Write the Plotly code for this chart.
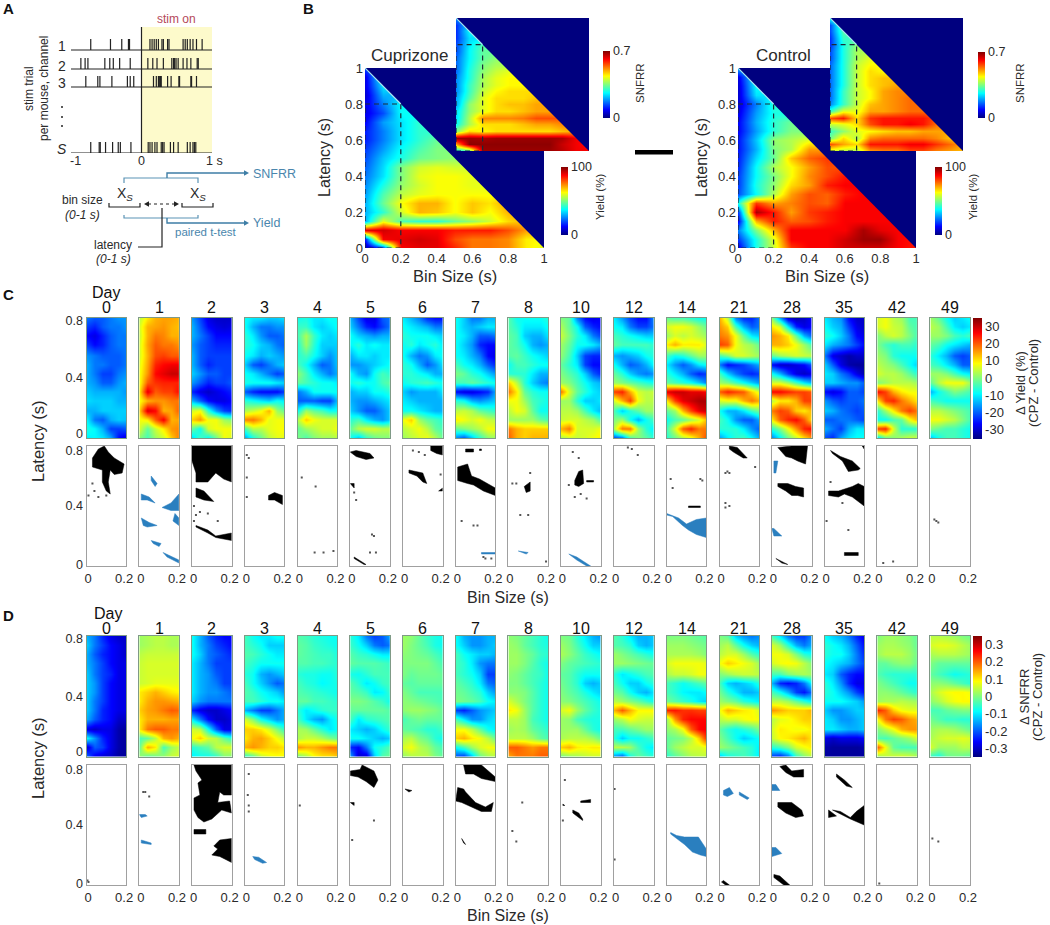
import plotly.graph_objects as go

W, H = 1050, 925
FONT = "Liberation Sans"
INK = "#2a2a2a"
BLUE_TXT = "#4a86ad"
JET = [[0, "#00007f"], [0.125, "#0000ff"], [0.375, "#00ffff"], [0.625, "#ffff00"], [0.875, "#ff0000"], [1, "#7f0000"]]

# ---------- panel A ----------
ROW_LABELS = ["1", "2", "3", "<i>S</i>"]
SPIKES_1 = [-0.72,-0.44,-0.28,-0.185,-0.17,0.12,0.15,0.18,0.21,0.24,0.29,0.31,0.37,0.39,0.59,0.62,0.65,0.69,0.73,0.78,0.86]
SPIKES_2 = [-0.86,-0.80,-0.76,-0.52,-0.45,-0.40,-0.31,-0.16,0.09,0.16,0.22,0.31,0.43,0.455,0.47,0.49,0.52,0.59,0.645,0.70,0.79,0.805]
SPIKES_3 = [-0.79,-0.62,-0.59,-0.42,-0.20,-0.16,-0.11,0.17,0.21,0.24,0.25,0.26,0.27,0.28,0.37,0.42,0.53,0.54,0.70,0.71,0.78]
SPIKES_S = [-0.72,-0.60,-0.585,-0.51,-0.41,-0.33,-0.30,-0.15,0.095,0.12,0.15,0.19,0.22,0.28,0.30,0.32,0.41,0.455,0.52,0.65,0.69,0.73,0.75,0.77]

# ---------- panel B: rows from latency 1.0 down to 0, each row runs from bin size 0 up to the diagonal ----------
B_BINS = [0, .1, .2, .3, .4, .5, .6, .7, .8, .9, 1.0]
B_LATENCY = [1, .95, .9, .85, .8, .75, .7, .65, .6, .55, .5, .45, .4, .35, .3, .25, .2, .15, .1, .05, 0]
CPZ_YIELD = [[20],[10,40],[10,35],[8,30],[10,25,38],[10,20,38],[12,28,35,42],[15,25,35,42],[15,25,35,42,48],[18,28,38,45,50],
 [20,32,40,48,50,52],[22,34,50,58,60,58],[24,35,50,60,62,62,60],[26,40,52,58,62,62,60],[28,45,56,60,62,62,62,62],
 [30,48,62,70,70,62,68,65,72],[30,42,58,70,68,62,68,62,70,72],[30,60,45,42,42,48,52,58,66,70],
 [90,92,88,88,88,85,85,85,80,72],[15,88,90,92,90,80,76,76,74,64,62],[5,15,88,90,90,84,76,76,74,64,60]]
CTL_YIELD = [[30],[10,40],[8,38],[8,35],[8,25,42],[10,28,40],[12,30,42,48],[12,28,42,50],[14,32,52,55,60],[14,30,50,55,72],
 [15,34,48,68,78,82],[16,38,55,62,72,80],[18,38,50,62,74,80,86],[18,40,52,66,72,85,88],[20,38,55,72,80,78,85,88],
 [40,82,72,75,80,78,88,88],[18,96,85,72,82,85,88,88,88,88],[12,70,85,78,80,85,88,88,88,88],
 [25,50,70,88,88,88,88,96,90,88],[18,40,60,88,88,88,92,97,97,88,86],[10,40,58,82,88,88,92,92,92,88,85]]
# SNFRR stored in hundredths
CPZ_SNFRR = [[18],[12,24],[12,26],[12,24],[14,25,32],[14,26,33],[16,26,33,36],[16,27,35,38],[16,28,36,40,42],[18,28,38,42,44],
 [18,30,38,42,44,44],[18,30,40,44,46,46],[20,32,42,46,46,46,48],[20,36,42,46,48,48,50],[24,36,42,46,46,48,50,50],
 [24,38,52,52,52,53,56,56,55],[27,38,46,46,46,48,50,50,52,54],[35,46,44,46,46,46,46,46,48,50],
 [68,68,67,68,68,68,68,68,67,62],[50,69,69,69,69,69,69,69,65,62,60],[24,30,68,68,68,68,68,68,66,62,62]]
CTL_SNFRR = [[28],[14,34],[14,32],[12,30],[12,28,36],[14,28,38],[14,28,38,42],[16,28,40,44],[16,28,40,46,44],[16,28,40,46,48],
 [16,28,40,46,48,50],[16,30,40,44,50,52],[16,30,40,44,50,52,54],[18,30,40,48,50,52,54],[30,42,42,50,50,52,54,54],
 [56,60,46,58,60,60,60,60,56],[40,42,46,56,60,60,62,60,54],[30,36,42,44,46,48,48,50,50,50],
 [34,46,38,52,54,54,54,54,52,48],[56,50,46,60,60,60,62,62,58,54,50],[40,38,38,50,52,52,56,56,52,50,48]]

# ---------- panels C, D ----------
DAYS = ["0","1","2","3","4","5","6","7","8","10","12","14","21","28","35","42","49"]
BINS = [0, .04, .08, .12, .16, .2]
LATENCY = [.8,.74,.68,.62,.55,.49,.43,.37,.31,.25,.18,.12,.06,0]

C0=[[-18,-20,-20,-18,-16,-16],[-22,-24,-20,-18,-18,-16],[-26,-28,-24,-20,-18,-18],[-22,-26,-24,-20,-18,-18],[-16,-18,-20,-20,-20,-18],[-14,-18,-18,-20,-20,-18],[-14,-18,-22,-22,-18,-16],[-14,-16,-20,-20,-16,-14],[-12,-14,-14,-14,-14,-16],[-11,-12,-12,-12,-14,-14],[-14,-14,-12,-12,-12,-12],[-9,-18,-20,-14,-12,-13],[-7,-9,-14,-22,-22,-20],[-10,-9,-10,-14,-26,-30]]
C1=[[4,10,14,15,15,14],[6,14,15,16,14,13],[5,14,18,17,14,14],[6,15,20,18,18,16],[6,14,21,22,20,20],[7,15,24,26,27,27],[8,16,26,28,30,30],[8,20,23,24,24,24],[10,28,20,22,22,26],[8,14,16,16,18,18],[12,29,26,14,15,20],[8,10,20,27,14,15],[6,-2,5,10,16,17],[0,-4,2,5,12,18]]
C2=[[-16,-22,-28,-30,-30,-30],[-14,-20,-26,-28,-29,-28],[-14,-18,-22,-26,-26,-26],[-16,-20,-22,-24,-24,-24],[-14,-20,-22,-22,-22,-22],[-14,-20,-24,-22,-22,-22],[-12,-16,-20,-20,-22,-22],[-16,-20,-24,-22,-22,-20],[-24,-28,-30,-28,-26,-24],[-14,-20,-26,-28,-28,-26],[6,8,-6,-16,-22,-24],[12,16,8,8,2,0],[-2,-8,6,8,8,8],[-12,-4,-10,-2,8,6]]
C3=[[-8,-10,-10,-12,-12,-10],[-8,-14,-18,-18,-16,-16],[-6,-10,-16,-20,-20,-18],[-6,-8,-12,-14,-18,-20],[-8,-10,-14,-12,-14,-16],[-12,-20,-22,-18,-14,-12],[-8,-10,-14,-18,-22,-20],[-7,-8,-8,-8,-10,-12],[-20,-24,-26,-26,-26,-22],[-6,-8,-10,-12,-8,-10],[3,5,8,14,2,-2],[17,18,14,7,8,8],[-4,4,4,7,8,9],[-16,-8,-2,4,7,7]]
C4=[[-8,-7,-10,-10,-8,-8],[-5,-5,-10,-12,-10,-8],[-4,3,-5,-10,-12,-10],[-6,2,-6,-12,-12,-12],[-6,-4,-8,-12,-16,-12],[-4,-8,-14,-20,-18,-12],[1,-4,-10,-14,-18,-14],[-2,-4,-6,-8,-8,-10],[-18,-14,-8,-8,-8,-8],[-20,-20,-20,-22,-22,-12],[-8,2,-2,-4,-8,-8],[4,12,8,6,6,6],[-2,2,4,6,6,8],[0,-4,0,2,2,4]]
C5=[[-14,-22,-28,-28,-20,-18],[-12,-18,-24,-26,-22,-18],[-8,-12,-14,-16,-14,-14],[-9,-6,-10,-8,-10,-10],[-14,-10,-10,-12,-10,-10],[-16,-16,-14,-12,-10,-8],[-8,-14,-16,-8,-4,-6],[-8,-6,-8,-8,-4,-2],[-14,-12,-12,-8,-8,-6],[-14,-16,-16,-14,-12,-10],[-12,-16,-20,-20,-16,-12],[-6,-4,-10,-14,-16,-12],[-2,4,6,6,4,4],[-8,-14,-6,-2,0,0]]
C6=[[-10,-14,-18,-24,-26,-26],[-8,-10,-12,-14,-18,-18],[-6,-8,-8,-8,-10,-12],[-8,-6,-10,-8,-6,-10],[-8,-14,-18,-16,-10,-8],[-6,-8,-14,-20,-16,-10],[-6,-6,-8,-10,-14,-14],[-8,-6,-5,-4,-6,-8],[-12,-16,-14,-14,-14,-10],[-10,-12,-14,-14,-14,-14],[-8,-8,-10,-12,-14,-14],[8,12,2,-2,-4,-6],[4,6,8,4,-2,-4],[2,4,6,8,4,-2]]
C7=[[-8,-12,-18,-18,-14,-14],[-8,-12,-14,-12,-10,-10],[-8,-10,-14,-20,-20,-18],[-8,-12,-16,-24,-26,-26],[-8,-10,-14,-18,-26,-28],[-4,-8,-10,-14,-20,-24],[0,-2,-6,-8,-12,-16],[-4,-4,-2,-4,-6,-8],[-26,-28,-28,-26,-24,-14],[-6,-8,-14,-16,-14,-12],[4,5,3,-2,-4,-6],[10,8,6,8,5,4],[-2,0,2,4,8,8],[-18,-22,-14,-6,0,2]]
C8=[[-3,-8,-8,-8,-8,-6],[-3,-6,-10,-10,-10,-8],[-2,-4,-12,-14,-14,-10],[-2,-4,-8,-14,-16,-14],[-3,-2,-5,-8,-10,-12],[-8,-4,-4,-6,-8,-8],[-6,-6,-6,-10,-14,-14],[12,4,-6,-12,-16,-18],[18,10,-2,-6,-8,-8],[8,8,2,-4,-6,-8],[4,8,6,-2,-8,-8],[2,2,2,2,-2,-4],[18,14,12,12,12,12],[20,14,12,14,14,14]]
C10=[[0,-2,-18,-26,-28,-26],[3,-2,-8,-20,-24,-26],[5,0,-6,-10,-18,-22],[2,-2,-8,-8,-10,-14],[1,-4,-12,-22,-24,-24],[-2,-6,-10,-22,-26,-26],[0,-3,-6,-12,-20,-24],[2,0,-4,-8,-12,-14],[18,6,-2,-6,-10,-12],[2,2,-6,-12,-12,-10],[4,4,2,-4,-10,-14],[5,6,6,4,2,-4],[14,18,6,6,6,8],[2,4,5,6,8,10]]
C12=[[-10,-16,-22,-26,-26,-16],[-8,-10,-18,-22,-22,-18],[-4,-6,-8,-10,-12,-12],[-2,-4,-4,-4,-4,-6],[-14,-16,-14,-12,-8,-6],[-8,-14,-20,-18,-14,-8],[-2,-6,-12,-16,-18,-16],[2,0,-2,-4,-6,-8],[22,24,14,6,4,5],[6,14,22,8,4,4],[-4,-12,-6,-2,2,2],[0,2,-8,-14,-8,-4],[4,18,18,2,-6,-10],[-24,-22,-6,0,-2,-6]]
C14=[[-2,-4,-4,-6,-8,-8],[6,8,8,6,2,-2],[2,6,4,6,4,2],[10,14,10,10,10,6],[-4,-8,-6,-2,2,2],[-10,-16,-20,-16,-10,-8],[-6,-10,-14,-20,-24,-22],[-2,-4,-6,-8,-12,-18],[28,30,30,28,28,26],[10,22,28,30,32,32],[-2,2,14,22,28,30],[-8,-4,-2,2,6,14],[-4,6,20,24,18,18],[-6,-2,2,6,14,22]]
C21=[[14,4,-18,-24,-24,-18],[16,12,-4,-14,-20,-18],[18,16,8,-2,-10,-12],[22,20,8,4,2,-2],[-4,0,6,6,4,2],[-18,-26,-24,-22,-18,-14],[-4,-12,-18,-22,-24,-22],[2,0,-4,-8,-12,-16],[20,24,22,20,12,6],[6,8,8,14,18,14],[-8,-14,-14,-10,-4,0],[-4,-8,-16,-20,-20,-14],[-6,-6,-6,-10,-16,-20],[-16,-10,-6,-4,-8,-14]]
C28=[[0,-16,-30,-32,-30,-26],[10,6,-10,-24,-28,-26],[16,14,10,-2,-14,-20],[14,14,12,8,2,-4],[-2,2,4,6,5,4],[-26,-30,-30,-28,-26,-20],[-8,-14,-22,-28,-30,-28],[6,6,2,-4,-10,-14],[26,26,24,22,22,20],[4,10,10,14,22,22],[18,22,20,12,10,14],[10,20,24,26,20,10],[-6,0,8,16,24,26],[-18,-10,-2,4,10,16]]
C35=[[-10,-14,-16,-26,-30,-30],[-8,-12,-14,-22,-28,-30],[-6,-8,-12,-18,-26,-28],[-10,-14,-16,-18,-22,-26],[-18,-28,-30,-32,-30,-30],[-12,-20,-28,-32,-33,-33],[-10,-12,-18,-22,-28,-32],[-12,-12,-14,-16,-16,-20],[-26,-28,-26,-20,-20,-22],[-16,-20,-22,-20,-20,-18],[-12,-14,-18,-20,-22,-20],[-20,-20,-18,-18,-20,-22],[-14,-18,-22,-14,-10,-10],[-22,-24,-14,-10,-8,-8]]
C42=[[6,8,4,2,-4,-4],[6,8,5,4,-2,-4],[0,4,6,4,0,-4],[0,-4,-6,-4,-4,-6],[2,0,-6,-8,-8,-8],[4,2,0,-4,-8,-12],[6,4,4,2,-2,-6],[0,2,4,4,4,2],[26,22,14,10,8,8],[10,22,24,18,14,10],[-6,2,10,18,22,18],[-8,-8,-4,-2,8,14],[22,24,6,-6,-6,-6],[-14,-4,0,4,6,6]]
C49=[[2,-2,-8,-12,-10,-8],[4,2,-4,-10,-12,-10],[2,2,0,-4,-6,-4],[-2,-4,-8,-10,-12,-14],[-6,-10,-14,-20,-22,-20],[-4,-6,-10,-14,-20,-20],[2,2,0,-4,-8,-10],[-2,4,8,8,8,2],[-14,-8,-4,0,-2,-4],[-4,-6,-8,-8,-8,-8],[4,4,2,0,-2,-4],[8,8,6,4,0,-4],[0,-2,-4,-4,-6,-8],[-14,-8,-4,-4,-6,-8]]
C_MAPS = [C0,C1,C2,C3,C4,C5,C6,C7,C8,C10,C12,C14,C21,C28,C35,C42,C49]

# delta SNFRR, stored in hundredths
D0=[[-14,-18,-24,-28,-30,-30],[-12,-18,-22,-26,-28,-30],[-14,-20,-24,-26,-28,-30],[-14,-18,-22,-26,-28,-28],[-12,-18,-22,-24,-28,-28],[-12,-16,-22,-26,-28,-28],[-12,-16,-22,-26,-28,-28],[-12,-18,-22,-26,-28,-28],[-12,-18,-24,-26,-28,-28],[-14,-20,-24,-26,-30,-30],[-28,-30,-28,-28,-32,-33],[-8,-16,-24,-28,-32,-33],[-30,-20,-22,-28,-32,-33],[-18,-28,-30,-30,-33,-33]]
D1=[[2,3,4,4,3,3],[2,3,4,4,3,3],[4,5,5,5,5,5],[5,6,6,6,6,6],[5,6,6,6,6,6],[5,6,7,7,7,7],[10,12,14,12,10,9],[10,14,16,16,15,14],[12,15,16,18,20,19],[10,14,14,14,15,15],[10,18,20,20,18,18],[-4,-2,4,14,16,14],[-2,14,10,-4,2,5],[2,-4,-2,2,5,6]]
D2=[[-8,-14,-20,-24,-26,-26],[-8,-14,-18,-22,-24,-26],[-8,-12,-18,-20,-22,-24],[-10,-14,-18,-22,-22,-22],[-10,-14,-16,-20,-22,-22],[-10,-14,-16,-18,-22,-22],[-10,-14,-16,-16,-18,-20],[-12,-16,-18,-18,-18,-18],[-24,-28,-30,-30,-28,-26],[-10,-18,-26,-30,-30,-28],[6,4,-8,-20,-28,-28],[8,12,6,4,-2,-6],[-6,-4,-2,4,6,6],[-10,-8,-8,-6,0,0]]
D3=[[-4,-8,-10,-10,-8,-8],[-4,-6,-8,-12,-12,-12],[-3,-4,-6,-8,-10,-10],[-4,-6,-8,-8,-8,-8],[-6,-8,-14,-16,-14,-12],[-4,-8,-12,-16,-20,-18],[-3,-5,-8,-10,-12,-16],[-4,-4,-6,-8,-8,-10],[-14,-18,-22,-22,-18,-14],[6,0,-8,-12,-16,-14],[12,12,10,6,0,-6],[10,14,15,12,8,4],[14,16,14,12,12,10],[-8,-4,4,7,8,8]]
D4=[[-3,-4,-6,-7,-8,-8],[-2,-3,-5,-6,-7,-8],[-2,-3,-4,-5,-5,-7],[-3,-3,-4,-4,-5,-6],[-6,-7,-7,-8,-8,-6],[-4,-6,-7,-9,-8,-7],[-3,-4,-5,-6,-7,-8],[-2,-2,-4,-4,-5,-6],[-6,-10,-8,-6,-5,-5],[-4,-10,-14,-16,-10,-7],[3,2,-2,-6,-10,-8],[3,5,5,3,0,-2],[16,14,14,16,18,18],[-2,2,8,10,10,12]]
D5=[[-6,-10,-18,-22,-20,-14],[-5,-8,-12,-18,-20,-18],[-3,-5,-6,-8,-10,-10],[-2,-3,-3,-3,-4,-5],[-7,-8,-6,-4,-4,-4],[-3,-6,-10,-8,-5,-4],[-2,-3,-5,-10,-9,-5],[0,0,-1,-3,-5,-8],[-2,-2,-2,-2,-2,-3],[-4,-10,-6,-5,-4,-3],[-10,-12,-14,-12,-8,-5],[-8,-8,-10,-12,-14,-12],[-24,-26,-18,-8,-6,-3],[-14,-30,-30,-12,-3,-1]]
D6=[[2,1,-2,-5,-7,-8],[2,0,-2,-4,-7,-8],[1,0,-1,-2,-4,-6],[0,0,0,0,-2,-4],[0,-2,-1,-1,-1,-2],[-2,-3,-2,-2,-2,-2],[0,-2,-4,-4,-4,-4],[1,0,-1,-2,-3,-4],[1,2,2,1,0,-2],[-4,-2,-1,-2,-2,-2],[-2,-3,-4,-6,-6,-4],[3,4,0,-2,-6,-8],[6,8,4,2,-2,-4],[1,3,4,4,0,-2]]
D7=[[-8,-14,-16,-16,-14,-14],[-8,-12,-16,-16,-14,-12],[-4,-8,-10,-12,-12,-14],[-4,-6,-10,-16,-18,-18],[-4,-6,-8,-12,-22,-22],[-2,-4,-6,-10,-18,-20],[-1,-2,-4,-6,-12,-16],[0,-1,-2,-4,-8,-10],[-22,-24,-20,-16,-14,-12],[-4,-10,-16,-16,-12,-10],[8,8,4,-2,-8,-10],[12,14,10,8,4,-2],[-8,-4,2,6,8,8],[-22,-24,-14,-2,2,4]]
D8=[[1,0,-2,-4,-6,-8],[2,1,-2,-4,-6,-7],[2,2,0,-2,-5,-6],[2,2,0,-3,-6,-8],[1,0,-2,-4,-5,-8],[0,0,-2,-4,-6,-8],[1,1,0,-3,-6,-8],[6,3,0,-3,-6,-8],[10,8,2,-3,-6,-8],[4,4,2,-4,-6,-8],[2,3,2,-2,-4,-6],[4,4,4,2,-2,-4],[20,20,18,16,18,18],[14,18,18,18,20,20]]
D10=[[0,-1,-6,-10,-14,-16],[2,0,-4,-8,-12,-12],[3,1,-2,-5,-7,-9],[0,-2,-3,-4,-5,-6],[-2,-3,-6,-8,-8,-8],[-1,-3,-6,-12,-14,-12],[0,-2,-4,-7,-10,-12],[1,0,-2,-4,-6,-8],[6,8,2,-2,-5,-7],[2,1,-4,-6,-7,-7],[2,2,2,-2,-6,-8],[3,4,4,4,2,-2],[12,14,10,9,10,10],[-2,0,2,4,5,5]]
D12=[[-3,-6,-10,-14,-14,-12],[-3,-4,-6,-12,-14,-12],[2,0,-2,-4,-6,-8],[2,2,1,0,-1,-2],[-6,-10,-8,-6,-4,-3],[-4,-8,-12,-12,-8,-6],[-1,-3,-8,-12,-14,-10],[4,2,0,-2,-5,-8],[14,20,14,9,9,9],[2,4,8,6,5,5],[-4,-4,-2,0,2,2],[-6,-12,-8,-8,-6,-4],[4,4,2,-4,-8,-10],[-18,-22,-8,-2,-4,-6]]
D14=[[0,0,0,-1,-2,-3],[2,2,2,1,0,-1],[3,3,3,3,2,0],[6,8,8,8,8,7],[3,5,5,6,8,8],[-4,-6,-8,-6,-4,-2],[-4,-6,-9,-10,-10,-8],[-1,-3,-5,-7,-10,-12],[24,25,23,23,22,22],[2,16,24,26,26,26],[1,3,8,20,26,27],[-2,-1,0,4,12,24],[-2,2,4,6,6,8],[-6,-3,0,3,4,4]]
D21=[[0,-2,-12,-16,-18,-16],[2,4,-2,-8,-12,-14],[4,6,6,2,-3,-6],[8,12,10,8,6,2],[0,2,4,5,5,4],[-4,-12,-14,-12,-10,-6],[-1,-6,-10,-14,-14,-12],[2,0,-2,-6,-8,-10],[8,14,12,10,9,6],[4,6,6,8,9,8],[-2,-6,-8,-6,-4,0],[0,-4,-8,-12,-10,-8],[2,0,-2,-4,-6,-10],[-14,-8,-6,-4,-6,-10]]
D28=[[-4,-10,-18,-22,-22,-16],[6,2,-6,-14,-18,-14],[8,8,6,0,-6,-8],[6,8,9,8,4,0],[-4,-4,0,2,3,2],[-14,-24,-26,-24,-18,-8],[-4,-8,-14,-22,-25,-18],[4,4,2,-2,-6,-10],[16,14,12,12,12,14],[4,7,8,10,12,12],[6,10,9,8,8,10],[5,9,10,12,14,10],[-6,-4,0,6,8,10],[-24,-26,-20,-6,0,4]]
D35=[[-8,-12,-14,-18,-24,-28],[-6,-8,-10,-14,-20,-26],[-6,-8,-8,-12,-18,-24],[-8,-10,-12,-14,-18,-22],[-10,-12,-20,-24,-26,-26],[-6,-10,-16,-24,-28,-28],[-6,-8,-12,-16,-22,-26],[-8,-8,-8,-10,-12,-16],[-12,-16,-16,-14,-12,-12],[-10,-12,-16,-16,-14,-12],[-10,-10,-12,-14,-14,-12],[-28,-30,-28,-28,-28,-26],[-32,-33,-33,-33,-33,-32],[-33,-33,-33,-33,-33,-33]]
D42=[[0,2,2,1,0,-2],[2,3,3,2,1,-2],[2,4,4,4,2,-1],[-2,-2,0,1,1,-2],[-3,-5,-6,-6,-6,-6],[0,-2,-4,-6,-8,-8],[1,1,0,-2,-4,-6],[2,3,3,4,3,2],[24,20,12,8,7,7],[8,18,22,20,16,14],[0,4,8,14,16,16],[-3,-4,-2,0,2,6],[20,8,-2,-4,-4,-4],[0,4,6,7,6,4]]
D49=[[4,4,3,2,0,-1],[6,7,7,6,4,2],[3,4,4,4,3,2],[0,-2,-2,-2,-2,-2],[-2,-4,-6,-8,-7,-6],[1,1,0,-2,-4,-6],[3,6,8,9,9,8],[1,3,6,8,9,9],[-4,-4,-2,-1,0,0],[-1,-3,-5,-5,-6,-6],[2,3,3,2,0,-2],[3,5,6,6,7,6],[6,2,2,2,4,4],[-6,-8,-2,-1,-2,-3]]
D_MAPS = [D0,D1,D2,D3,D4,D5,D6,D7,D8,D10,D12,D14,D21,D28,D35,D42,D49]

# significant regions: outlines as (bin size, latency); specks as single points
C_BLACK = {
 "0":[[(.03,.72),(.06,.78),(.09,.80),(.11,.76),(.14,.72),(.19,.68),(.18,.62),(.14,.61),(.12,.64),(.11,.56),(.12,.48),(.10,.50),(.08,.56),(.08,.64),(.03,.66)]],
 "2":[[(0,.8),(.2,.8),(.2,.56),(.16,.58),(.12,.62),(.08,.56),(.02,.56),(.02,.62),(0,.7)],[(.02,.52),(.06,.50),(.11,.43),(.06,.44),(.02,.46)],[(.02,.27),(.08,.24),(.12,.2),(.2,.22),(.2,.17),(.12,.19),(.08,.22),(.02,.26)]],
 "3":[[(.12,.47),(.15,.49),(.19,.47),(.19,.41),(.15,.44),(.12,.44)]],
 "5":[[(0,.76),(.03,.77),(.1,.75),(.12,.72),(.08,.71),(.03,.73)],[(.02,.06),(.08,.01),(.07,.01),(.02,.05)],[(0,.55),(.02,.55),(.02,.52)]],
 "6":[[(.14,.8),(.2,.8),(.2,.74),(.17,.75),(.14,.77)],[(.03,.64),(.1,.62),(.12,.55),(.1,.56),(.07,.6),(.03,.62)],[(.18,.5),(.2,.52),(.2,.5)]],
 "7":[[(.05,.78),(.09,.78),(.09,.76),(.05,.76)],[(.12,.78),(.13,.78),(.13,.77),(.12,.77)],[(.01,.66),(.06,.68),(.08,.6),(.12,.58),(.2,.52),(.2,.47),(.14,.5),(.09,.54),(.06,.55),(.01,.57)]],
 "8":[[(.08,.53),(.11,.56),(.11,.5),(.09,.49)]],
 "10":[[(.07,.57),(.09,.63),(.11,.64),(.115,.55),(.09,.53),(.07,.54)],[(.13,.57),(.165,.57),(.165,.56),(.13,.56)]],
 "14":[[(.11,.4),(.17,.4),(.17,.39),(.11,.39)]],
 "21":[[(.05,.8),(.09,.79),(.14,.72),(.12,.72),(.07,.76),(.05,.78)]],
 "28":[[(.03,.79),(.1,.8),(.18,.8),(.17,.68),(.13,.7),(.1,.72),(.07,.73)],[(.03,.55),(.08,.55),(.12,.53),(.16,.52),(.16,.46),(.13,.47),(.1,.47),(.07,.5),(.03,.53)],[(.02,.05),(.08,.01),(.05,.02)]],
 "35":[[(.03,.77),(.08,.73),(.14,.7),(.18,.65),(.17,.64),(.12,.63),(.09,.7),(.04,.75)],[(.19,.8),(.2,.8),(.2,.78)],[(.02,.5),(.07,.5),(.14,.53),(.17,.55),(.2,.53),(.2,.4),(.14,.46),(.1,.48),(.07,.46),(.02,.47)],[(.1,.09),(.17,.09),(.17,.07),(.1,.07)]],
}
C_BLUE = {
 "1":[[(.115,.39),(.16,.42),(.2,.48),(.2,.37),(.16,.37)],[(.01,.48),(.05,.46),(.08,.42),(.04,.44),(.01,.44)],[(.01,.32),(.05,.29),(.09,.27),(.04,.26),(.02,.27)],[(.06,.17),(.11,.15),(.1,.13),(.07,.15)],[(.12,.09),(.2,.04),(.2,.02),(.14,.06)],[(.18,.35),(.2,.32),(.2,.27),(.17,.30)],[(.06,.60),(.09,.55),(.08,.53),(.06,.57)]],
 "7":[[(.13,.09),(.2,.09),(.2,.08),(.13,.08)]],
 "8":[[(.05,.1),(.1,.09),(.09,.08)]],
 "10":[[(.04,.08),(.08,.06),(.15,0),(.13,0),(.08,.04),(.05,.07)]],
 "14":[[(0,.35),(.06,.32),(.1,.28),(.15,.31),(.2,.32),(.2,.19),(.15,.21),(.11,.24),(.08,.27),(.03,.33),(0,.34)]],
 "28":[[(.01,.7),(.03,.7),(.02,.62),(.01,.62)],[(0,.25),(.01,.25),(.05,.2),(.01,.2)]],
}
C_SPECKS = {
 "0":[(.01,.47),(.04,.5),(.03,.55),(.06,.46),(.1,.47)],
 "2":[(.01,.4),(.02,.34),(.04,.36),(.08,.35),(.13,.3),(.01,.3)],
 "3":[(.01,.74),(.02,.72),(.01,.59),(.01,.46)],
 "4":[(.09,.53),(.02,.59),(.085,.09),(.13,.09),(.18,.1)],
 "5":[(.11,.21),(.12,.2),(.1,.09),(.13,.09),(.03,.44),(.02,.49)],
 "6":[(.19,.61),(.05,.77),(.08,.76),(.11,.74)],
 "7":[(.03,.3),(.09,.27),(.11,.27),(.14,.06),(.15,.05),(.18,.05)],
 "8":[(.11,.62),(.02,.55),(.04,.55),(.06,.34),(.1,.34),(.19,.03)],
 "10":[(.09,.72),(.04,.54),(.07,.46),(.1,.48),(.13,.45),(.06,.76)],
 "12":[(.07,.79),(.09,.78),(.12,.74)],
 "14":[(.02,.58),(.03,.52),(.17,.58),(.18,.57)],
 "21":[(.18,.66),(.03,.62),(.04,.63),(.05,.62),(.03,.42),(.03,.39),(.05,.4)],
 "35":[(.03,.56),(.12,.24),(.01,.3),(.09,.42)],
 "42":[(.03,.02),(.08,.03)],
 "49":[(.02,.31),(.03,.30),(.04,.29)],
}
D_BLACK = {
 "2":[[(.01,.8),(.2,.8),(.2,.6),(.16,.6),(.14,.62),(.13,.55),(.19,.56),(.2,.48),(.15,.5),(.1,.44),(.06,.42),(.03,.45),(.01,.5),(.01,.58),(.04,.6),(.03,.68),(.05,.7),(.02,.76)],[(.11,.26),(.14,.3),(.2,.31),(.2,.15),(.14,.19),(.1,.2),(.13,.24)],[(.01,.37),(.07,.37),(.07,.34),(.01,.34)]],
 "5":[[(0,.76),(.05,.77),(.06,.8),(.12,.76),(.14,.7),(.12,.65),(.08,.69),(.04,.72),(0,.73)],[(0,.55),(.02,.55),(.02,.53)]],
 "6":[[(.01,.64),(.045,.63),(.03,.62)]],
 "7":[[(.04,.8),(.13,.8),(.2,.72),(.2,.69),(.13,.71),(.09,.74),(.05,.74)],[(.01,.65),(.04,.64),(.05,.62),(.1,.55),(.15,.52),(.19,.55),(.18,.49),(.13,.49),(.08,.52),(.03,.55),(0,.56)],[(.03,.31),(.05,.27),(.04,.28)]],
 "10":[[(.06,.5),(.09,.48),(.11,.44),(.11,.43),(.08,.46),(.06,.48)],[(.1,.56),(.15,.57),(.15,.55),(.1,.55)],[(.01,.54),(.02,.53),(.01,.53)]],
 "21":[[(.01,.02),(.03,0),(.05,0),(.02,.03)]],
 "28":[[(.04,.79),(.07,.8),(.1,.76),(.16,.77),(.16,.72),(.11,.72),(.07,.75)],[(.03,.55),(.1,.55),(.15,.5),(.16,.46),(.12,.45),(.07,.48),(.03,.52)],[(.01,.07),(.04,.06),(.09,0),(.06,0),(.01,.05)]],
 "35":[[(.06,.74),(.1,.7),(.14,.65),(.11,.66),(.06,.72)],[(.04,.5),(.08,.49),(.13,.45),(.16,.49),(.2,.53),(.2,.4),(.13,.44)],[(.02,.5),(.06,.46),(.02,.45)]],
}
D_BLUE = {
 "1":[[(0,.47),(.03,.47),(.04,.46),(.01,.45)],[(.01,.3),(.06,.28),(.06,.27),(.01,.28)]],
 "3":[[(.04,.19),(.07,.185),(.11,.15),(.09,.145),(.05,.17)]],
 "14":[[(.02,.35),(.05,.33),(.09,.32),(.16,.32),(.18,.28),(.2,.24),(.2,.19),(.17,.2),(.13,.22),(.09,.27),(.05,.31),(.02,.34)]],
 "21":[[(.02,.63),(.05,.65),(.07,.61),(.04,.59),(.02,.6)],[(.1,.62),(.15,.58),(.14,.57),(.1,.6)]],
 "28":[[(0,.67),(.02,.67),(.04,.63),(0,.63)],[(0,.25),(.02,.25),(.05,.21),(.02,.2),(0,.19)]],
}
D_SPECKS = {
 "3":[(.02,.74),(.015,.6),(.02,.53),(.02,.49)],
 "4":[(.01,.53)],
 "8":[(.07,.55),(.02,.36),(.04,.29)],
 "10":[(.02,.7),(.01,.43)],
 "49":[(.01,.31),(.04,.29)],
 "1":[(.02,.62),(.03,.62),(.05,.59)],
 "5":[(.12,.43),(.01,.3)],
 "0":[(.005,.03),(.01,.02)],
 "12":[(.003,.17),(.003,.64)],
 "42":[(.01,.01)],
}

# ---------- pixel layout ----------
PANEL_LEFT = [86.5,139.3,192,244.8,297.8,350.2,403,455.7,508.4,560.9,614,666.7,719.5,771.9,824.6,877.3,930.4]
PANEL_W = 39.6
C_TOP, C_LOW = (317.5, 438), (446, 566)
D_TOP, D_LOW = (636, 756.5), (765, 885)
Y_TICKS = [.03, .4, .78]
X_TICKS = [.008, .19]

fig = go.Figure()
layout = {}
shapes = []
annotations = []
axis_n = [0]

def fx(p): return p / W
def fy(p): return 1 - p / H

def new_axes(x0, x1, y0, y1, xrange, yrange, **kw):
    axis_n[0] += 1
    n = axis_n[0]
    s = "" if n == 1 else str(n)
    xa = dict(domain=[fx(x0), fx(x1)], range=xrange, anchor="y" + s, showgrid=False, zeroline=False,
              ticks="", showticklabels=False, tickfont=dict(family=FONT, size=13, color=INK), fixedrange=True)
    ya = dict(domain=[fy(y1), fy(y0)], range=yrange, anchor="x" + s, showgrid=False, zeroline=False,
              ticks="", showticklabels=False, tickfont=dict(family=FONT, size=13, color=INK), fixedrange=True)
    xa.update(kw.get("x", {})); ya.update(kw.get("y", {}))
    layout["xaxis" + s] = xa
    layout["yaxis" + s] = ya
    return "x" + s, "y" + s

def text(x, y, s, size=12.5, color=INK, angle=0, anchor="center"):
    annotations.append(dict(x=fx(x), y=fy(y), xref="paper", yref="paper", text=s, showarrow=False, textangle=angle,
                            xanchor=anchor, yanchor="middle", font=dict(family=FONT, size=size, color=color)))

def seg(pts, color, width=1.2, dash="solid"):
    d = "M" + " L".join(f"{fx(x):.5f},{fy(y):.5f}" for x, y in pts)
    shapes.append(dict(type="path", path=d, xref="paper", yref="paper", line=dict(color=color, width=width, dash=dash)))

def head(x, y, color, direction=1, size=5):
    d = f"M{fx(x):.5f},{fy(y):.5f} L{fx(x-direction*size):.5f},{fy(y-size*0.55):.5f} L{fx(x-direction*size):.5f},{fy(y+size*0.55):.5f} Z"
    shapes.append(dict(type="path", path=d, xref="paper", yref="paper", fillcolor=color, line=dict(width=0)))

# ---------- panel A ----------
A_ROWS = [50, 69, 87, 153]
ax, ay = new_axes(71, 212, 27, 153, [-1, 1], [153, 27])
fig.add_trace(go.Scatter(x=[0, 1, 1, 0], y=[27, 27, 153, 153], fill="toself", fillcolor="#fdfacb", mode="none",
                         xaxis=ax, yaxis=ay, showlegend=False, hoverinfo="skip"))
for base, sp in zip(A_ROWS, [SPIKES_1, SPIKES_2, SPIKES_3, SPIKES_S]):
    xs, ys = [], []
    for t in sp:
        xs += [t, t, None]; ys += [base, base - 11, None]
    fig.add_trace(go.Scatter(x=xs, y=ys, mode="lines", line=dict(color="#222", width=1.2), xaxis=ax, yaxis=ay, showlegend=False, hoverinfo="skip"))
    fig.add_trace(go.Scatter(x=[-1, 1], y=[base, base], mode="lines", line=dict(color="#222", width=1.2), xaxis=ax, yaxis=ay, showlegend=False, hoverinfo="skip"))
fig.add_trace(go.Scatter(x=[0, 0], y=[27, 153], mode="lines", line=dict(color="#222", width=1.2), xaxis=ax, yaxis=ay, showlegend=False, hoverinfo="skip"))
for yy in (107, 117, 126):
    shapes.append(dict(type="circle", xref="paper", yref="paper", x0=fx(61), x1=fx(63), y0=fy(yy + 1), y1=fy(yy - 1),
                       fillcolor="#222", line=dict(width=0)))
for lab, yy in zip(ROW_LABELS, [46, 66, 83, 149]):
    text(62, yy, lab, 14)
text(29, 89, "stim trial", 12, angle=-90)
text(44, 89, "per mouse, channel", 12, angle=-90)
text(176, 19, "stim on", 12, "#b5485a")
text(75, 161, "-1", 12.5); text(141, 161, "0", 12.5); text(214, 161, "1 s", 12.5)
text(8, 8, "<b>A</b>", 15, "#111"); text(308, 8, "<b>B</b>", 15, "#111")
text(8, 294, "<b>C</b>", 15, "#111"); text(8, 615, "<b>D</b>", 15, "#111")
LB = "#5b93b5"
seg([(124, 183), (124, 178), (198, 178), (198, 183)], LB)
seg([(167, 178), (167, 173), (245, 173)], "#3e7ea6", 1.4); head(249, 173, "#3e7ea6")
text(274, 174, "SNFRR", 12.5, BLUE_TXT)
seg([(124, 215), (124, 218), (198, 218), (198, 215)], LB)
seg([(167, 218), (167, 223), (245, 223)], "#3e7ea6", 1.4); head(249, 223, "#3e7ea6")
text(266, 223, "Yield", 12.5, BLUE_TXT)
text(206, 232, "paired t-test", 11.5, BLUE_TXT)
text(125, 194, "X<sub><i>S</i></sub>", 14); text(198, 194, "X<sub><i>S</i></sub>", 14)
seg([(109, 203), (109, 207), (140, 207), (140, 203)], "#222")
seg([(182, 203), (182, 207), (213, 207), (213, 203)], "#222")
seg([(148, 204), (175, 204)], "#222", 1.2, "dot"); head(179, 204, "#222"); head(144, 204, "#222", -1)
seg([(162, 208), (162, 247), (138, 247)], "#222")
text(82, 200, "bin size", 12); text(82, 215, "<i>(0-1 s)</i>", 12)
text(113, 245, "latency", 12); text(113, 259, "<i>(0-1 s)</i>", 12)

# ---------- panel B ----------
def full(rows):
    return [r + [r[-1]] * (len(B_BINS) - len(r)) for r in rows][::-1]

B_TICKS = [0, .2, .4, .6, .8, 1]
B_TEXT = ["0", "0.2", "0.4", "0.6", "0.8", "1"]

def b_panel(box, rows, caxis, main):
    x0, x1, y0, y1 = box
    kw = {}
    if main:
        kw = dict(x=dict(showticklabels=True, tickvals=B_TICKS, ticktext=B_TEXT, ticklabelstandoff=1),
                  y=dict(showticklabels=True, tickvals=B_TICKS, ticktext=B_TEXT, ticklabelstandoff=1))
    xa, ya = new_axes(x0, x1, y0, y1, [0, 1], [0, 1], **kw)
    fig.add_trace(go.Heatmap(x=B_BINS, y=B_LATENCY[::-1], z=full(rows), coloraxis=caxis, zsmooth="best",
                             xaxis=xa, yaxis=ya, hoverinfo="skip"))
    fig.add_trace(go.Scatter(x=[0, 1.02, 1.02, 1, 0], y=[1, 1, 0, 0, 1], fill="toself", fillcolor="#00007f", mode="none",
                             xaxis=xa, yaxis=ya, showlegend=False, hoverinfo="skip"))
    fig.add_trace(go.Scatter(x=[0, .2], y=[1, .8], mode="lines", line=dict(color="#a8e8f0", width=1.2),
                             xaxis=xa, yaxis=ya, showlegend=False, hoverinfo="skip"))
    fig.add_trace(go.Scatter(x=[0, 0, .2, .2, 0], y=[0, .8, .8, 0, 0], mode="lines", line=dict(color="#1c2c38", width=1.2, dash="5px,4px"),
                             xaxis=xa, yaxis=ya, showlegend=False, hoverinfo="skip"))

b_panel((365, 544, 68, 248), CPZ_YIELD, "coloraxis", True)
b_panel((456, 589, 18, 151), CPZ_SNFRR, "coloraxis2", False)
b_panel((738, 916, 68, 248), CTL_YIELD, "coloraxis3", True)
b_panel((830, 963, 18, 151), CTL_SNFRR, "coloraxis4", False)

text(410, 55, "Cuprizone", 17); text(783, 55, "Control", 17)
text(324, 158, "Latency (s)", 16, angle=-90); text(701, 158, "Latency (s)", 16, angle=-90)
text(455, 276, "Bin Size (s)", 16.5); text(827, 276, "Bin Size (s)", 16.5)
text(600, 197, "Yield (%)", 11.5, angle=-90); text(973, 197, "Yield (%)", 11.5, angle=-90)
text(640, 83, "SNFRR", 11.5, angle=-90); text(1020, 83, "SNFRR", 11.5, angle=-90)
shapes.append(dict(type="rect", x0=fx(635), x1=fx(673), y0=fy(150), y1=fy(154.5), xref="paper", yref="paper", fillcolor="#000", line=dict(width=0)))

def cbar(x, top, height, vals, labels, size=12.5, thick=7):
    return dict(x=fx(x), xanchor="left", y=fy(top), yanchor="top", len=height, lenmode="pixels", thickness=thick, thicknessmode="pixels",
                xpad=0, ypad=0, outlinewidth=0, ticks="", tickvals=vals, ticktext=labels,
                tickfont=dict(family=FONT, size=size, color=INK))

layout["coloraxis"] = dict(cmin=0, cmax=100, colorscale=JET, colorbar=cbar(561, 167, 68, [0, 100], ["0", "100"]))
layout["coloraxis2"] = dict(cmin=0, cmax=70, colorscale=JET, colorbar=cbar(603, 51, 67, [0, 70], ["0", "0.7"]))
layout["coloraxis3"] = dict(cmin=0, cmax=100, colorscale=JET, colorbar=cbar(935, 167, 68, [0, 100], ["0", "100"]))
layout["coloraxis4"] = dict(cmin=0, cmax=70, colorscale=JET, colorbar=cbar(978, 52, 66, [0, 70], ["0", "0.7"]))
C_BAR = cbar(973, 317.5, 120.5, [-30, -20, -10, 0, 10, 20, 30], ["-30", "-20", "-10", "0", "10", "20", "30"], 13, 9)
D_BAR = cbar(973, 636, 120.5, [-30, -20, -10, 0, 10, 20, 30], ["-0.3", "-0.2", "-0.1", "0", "0.1", "0.2", "0.3"], 13, 9)
layout["coloraxis5"] = dict(cmin=-35, cmax=35, colorscale=JET, colorbar=C_BAR)
layout["coloraxis6"] = dict(cmin=-35, cmax=35, colorscale=JET, colorbar=D_BAR)

# ---------- panels C, D ----------
def heat_row(maps, band, caxis):
    for i, (left, m) in enumerate(zip(PANEL_LEFT, maps)):
        ykw = dict(showticklabels=True, tickvals=Y_TICKS, ticktext=["0", "0.4", "0.8"], ticklabelstandoff=0, tickfont=dict(family=FONT, size=12.5, color=INK)) if i == 0 else {}
        xa, ya = new_axes(left, left + PANEL_W, band[0], band[1], [0, .2], [0, .8],
                          x=dict(showline=True, mirror=True, linecolor="#7f9a86", linewidth=1),
                          y=dict(showline=True, mirror=True, linecolor="#7f9a86", linewidth=1, **ykw))
        fig.add_trace(go.Heatmap(x=BINS, y=LATENCY[::-1], z=m[::-1], coloraxis=caxis, zsmooth="best",
                                 xaxis=xa, yaxis=ya, hoverinfo="skip"))

def sig_trace(polys, color, xa, ya):
    xs, ys = [], []
    for p in polys:
        for a, b in p + [p[0]]:
            xs.append(a); ys.append(b)
        xs.append(None); ys.append(None)
    fig.add_trace(go.Scatter(x=xs, y=ys, mode="lines", fill="toself", fillcolor=color, line=dict(color=color, width=0.5),
                             xaxis=xa, yaxis=ya, showlegend=False, hoverinfo="skip"))

def sig_row(black, blue, specks, band):
    for i, (left, day) in enumerate(zip(PANEL_LEFT, DAYS)):
        ykw = dict(showticklabels=True, tickvals=[.012, .4, .77], ticktext=["0", "0.4", "0.8"], ticklabelstandoff=0, tickfont=dict(family=FONT, size=12.5, color=INK)) if i == 0 else {}
        xa, ya = new_axes(left, left + PANEL_W, band[0], band[1], [0, .2], [0, .8],
                          x=dict(showline=True, mirror=True, linecolor="#a0a0a0", linewidth=1.3, showticklabels=True,
                                 tickvals=X_TICKS, ticktext=["0", "0.2"], ticklabelstandoff=0),
                          y=dict(showline=True, mirror=True, linecolor="#a0a0a0", linewidth=1.3, **ykw))
        if day in black:
            sig_trace(black[day], "#000000", xa, ya)
        if day in blue:
            sig_trace(blue[day], "#2a7fbf", xa, ya)
        pts = specks.get(day, [])
        # every panel keeps one specks trace so that an empty panel still shows its box and ticks
        fig.add_trace(go.Scatter(x=[p[0] for p in pts], y=[p[1] for p in pts], mode="markers",
                                 marker=dict(color="#555", size=2, symbol="square"),
                                 xaxis=xa, yaxis=ya, showlegend=False, hoverinfo="skip"))

heat_row(C_MAPS, C_TOP, "coloraxis5")
sig_row(C_BLACK, C_BLUE, C_SPECKS, C_LOW)
heat_row(D_MAPS, D_TOP, "coloraxis6")
sig_row(D_BLACK, D_BLUE, D_SPECKS, D_LOW)

for left, day in zip(PANEL_LEFT, DAYS):
    text(left + PANEL_W / 2, 308, day, 16, "#111")
    text(left + PANEL_W / 2, 628, day, 16, "#111")
text(106, 292, "Day", 16, "#111"); text(108, 613, "Day", 16, "#111")
text(38, 441, "Latency (s)", 16.5, angle=-90); text(38, 758, "Latency (s)", 16.5, angle=-90)
text(508, 597, "Bin Size (s)", 16); text(508, 915, "Bin Size (s)", 16)
text(1020, 383, "Δ Yield (%)", 13, angle=-90); text(1033, 383, "(CPZ - Control)", 13, angle=-90)
text(1024, 697, "Δ SNFRR", 13, angle=-90); text(1037, 697, "(CPZ - Control)", 13, angle=-90)

fig.update_layout(width=W, height=H, margin=dict(l=0, r=0, t=0, b=0, autoexpand=False), paper_bgcolor="white", plot_bgcolor="white",
                  showlegend=False, shapes=shapes, annotations=annotations, font=dict(family=FONT), **layout)
fig.write_html("out.html", post_script="document.body.style.margin='0';", config=dict(displayModeBar=False))
